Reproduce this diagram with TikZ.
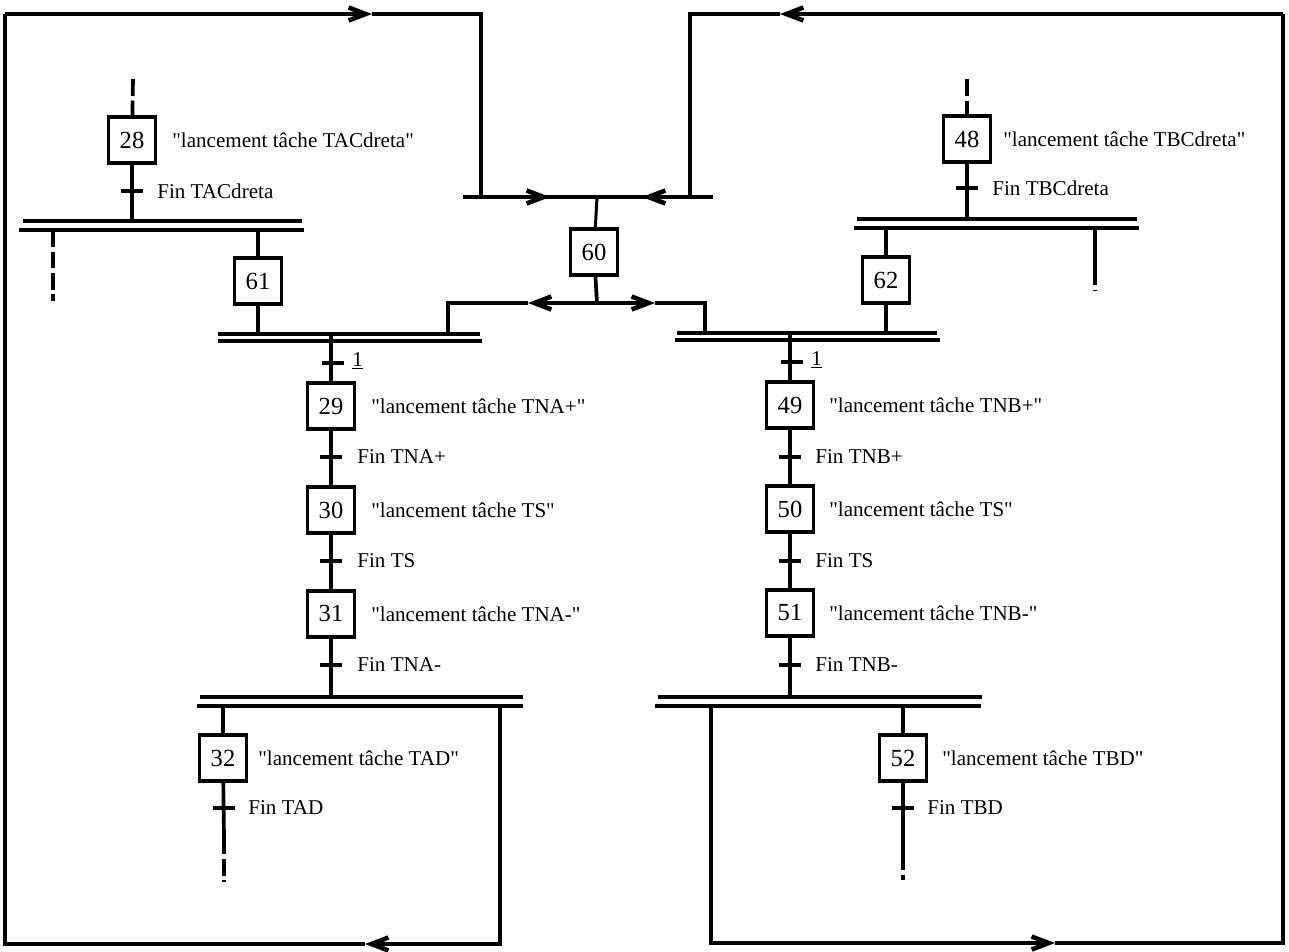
\documentclass[tikz,border=0pt]{standalone}
\usepackage{fontspec}
\setmainfont[Ligatures=TeXOff]{Liberation Serif}
\usetikzlibrary{arrows.meta, positioning}

\tikzstyle{stepBox} = [rectangle, draw=black, line width=2pt, minimum width=0.94cm, minimum height=0.92cm, inner sep=0pt, fill=white, font=\fontsize{14}{16}\selectfont]
\tikzstyle{trans} = [rectangle, fill=black, minimum width=0.44cm, minimum height=0.08cm, inner sep=0pt]
\tikzstyle{action} = [anchor=west, inner sep=0pt, font=\fontsize{12}{14}\selectfont]
\tikzstyle{cond} = [anchor=west, inner sep=0pt, font=\fontsize{12}{14}\selectfont]
\tikzstyle{link} = [line width=2.1pt]
\tikzstyle{bar} = [line width=2pt]
\tikzstyle{open} = [line width=2.1pt, dash pattern=on 0.34cm off 0.09cm]
\tikzstyle{arrow} = [line width=2.6pt, line join=miter, >={Straight Barb[length=3.4mm,width=2.6mm]}]

\begin{document}
\begin{tikzpicture}[x=0.02cm, y=-0.02cm, node distance=2.08cm]
        \useasboundingbox (0,0) rectangle (1289,951);

        % left branch
        \node (s28) [stepBox] at (132,140) {28};
        \node (a28) [action] at (172,140) {"lancement tâche TACdreta"};
        \node (t28) [trans] at (132,191) {};
        \node (f28) [cond] at (157,191) {Fin TACdreta};
        \coordinate (in28) at (133,79);
        \coordinate (barA) at (0,221);
        \coordinate (barAb) at (0,230);
        \coordinate (outA) at (53,301);

        \node (s61) [stepBox] at (258,281) {61};

        \coordinate (barB) at (0,334);
        \node (t1a) [trans] at (333,363) {};
        \node (c1a) [cond] at (352,361) {\underline{1}};

        \node (s29) [stepBox] at (331,406) {29};
        \node (s30) [stepBox, below of=s29] {30};
        \node (s31) [stepBox, below of=s30] {31};
        \node (a29) [action] at (371,406) {"lancement tâche TNA+"};
        \node (a30) [action] at (371,510) {"lancement tâche TS"};
        \node (a31) [action] at (371,614) {"lancement tâche TNA-"};
        \node (t29) [trans] at (331,457) {};
        \node (t30) [trans] at (331,561) {};
        \node (t31) [trans] at (331,665) {};
        \node (f29) [cond] at (357,457) {Fin TNA+};
        \node (f30) [cond] at (357,561) {Fin TS};
        \node (f31) [cond] at (357,665) {Fin TNA-};

        \coordinate (barC) at (0,697);
        \coordinate (barCb) at (0,706);
        \node (s32) [stepBox] at (223,758) {32};
        \node (a32) [action] at (258,758) {"lancement tâche TAD"};
        \node (t32) [trans] at (224,808) {};
        \node (f32) [cond] at (248,808) {Fin TAD};
        \coordinate (end32) at (224,837);
        \coordinate (out32) at (224,882);

        % centre
        \node (s60) [stepBox] at (594,252) {60};
        \coordinate (merge) at (597,197);
        \coordinate (split) at (597,303);

        % right branch
        \node (s48) [stepBox] at (967,139) {48};
        \node (a48) [action] at (1003,139) {"lancement tâche TBCdreta"};
        \node (t48) [trans] at (967,188) {};
        \node (f48) [cond] at (992,188) {Fin TBCdreta};
        \coordinate (in48) at (967,79);
        \coordinate (barD) at (0,219);
        \coordinate (barDb) at (0,228);
        \coordinate (endD) at (1095,268);
        \coordinate (outD) at (1095,291);

        \node (s62) [stepBox] at (886,280) {62};

        \coordinate (barE) at (0,333);
        \node (t1b) [trans] at (792,362) {};
        \node (c1b) [cond] at (811,360) {\underline{1}};

        \node (s49) [stepBox] at (790,405) {49};
        \node (s50) [stepBox, below of=s49] {50};
        \node (s51) [stepBox, below of=s50] {51};
        \node (a49) [action] at (829,405) {"lancement tâche TNB+"};
        \node (a50) [action] at (829,509) {"lancement tâche TS"};
        \node (a51) [action] at (829,613) {"lancement tâche TNB-"};
        \node (t49) [trans] at (790,457) {};
        \node (t50) [trans] at (790,561) {};
        \node (t51) [trans] at (790,665) {};
        \node (f49) [cond] at (815,457) {Fin TNB+};
        \node (f50) [cond] at (815,561) {Fin TS};
        \node (f51) [cond] at (815,665) {Fin TNB-};

        \coordinate (barF) at (0,697);
        \coordinate (barFb) at (0,706);
        \node (s52) [stepBox] at (903,758) {52};
        \node (a52) [action] at (942,758) {"lancement tâche TBD"};
        \node (t52) [trans] at (903,808) {};
        \node (f52) [cond] at (927,808) {Fin TBD};
        \coordinate (end52) at (903,853);
        \coordinate (out52) at (903,880);

        % double bars
        \draw[bar] (23,221) -- (302,221) (19,230) -- (304,230);
        \draw[bar] (218,334) -- (480,334) (218,341) -- (482,341);
        \draw[bar] (200,697) -- (523,697) (197,706) -- (523,706);
        \draw[bar] (857,219) -- (1137,219) (854,228) -- (1139,228);
        \draw[bar] (677,333) -- (937,333) (675,340) -- (940,340);
        \draw[bar] (658,697) -- (982,697) (655,706) -- (981,706);
        \draw[arrow] (463,197) -- (713,197);

        % links
        \draw[open] (in28) -- (s28);
        \draw[link] (s28) -- (s28 |- barA);
        \draw[open] (outA |- barAb) -- (outA);
        \draw[link] (s61 |- barAb) -- (s61) -- (s61 |- barB);
        \draw[link] (s31 |- barB) -- (s29) -- (s30) -- (s31) -- (s31 |- barC);
        \draw[link] (s32 |- barCb) -- (s32) -- (end32);
        \draw[open] (end32) -- (out32);

        \draw[open] (in48) -- (s48);
        \draw[link] (s48) -- (s48 |- barD);
        \draw[link] (endD |- barDb) -- (endD);
        \draw[open] (endD) -- (outD);
        \draw[link] (s62 |- barDb) -- (s62) -- (s62 |- barE);
        \draw[link] (s51 |- barE) -- (s49) -- (s50) -- (s51) -- (s51 |- barF);
        \draw[link] (s52 |- barFb) -- (s52) -- (end52);
        \draw[open] (end52) -- (out52);

        \draw[line width=1.7pt] (merge) -- (s60);
        \draw[link] (s60) -- (split);
        \draw[arrow, ->] (split) -- (528,303);
        \draw[arrow] (528,303) -| (448,334);
        \draw[arrow, ->] (split) -- (655,303);
        \draw[arrow] (655,303) -| (705,333);

        % loops back to 60
        \draw[arrow, ->] (500,706) |- (365,944);
        \draw[arrow] (365,944) -| (5,14);
        \draw[arrow, ->] (5,14) -- (372,14);
        \draw[arrow] (372,14) -| (481,197);
        \draw[arrow, ->] (481,197) -- (550,197);

        \draw[arrow, ->] (711,706) |- (1055,943);
        \draw[arrow] (1055,943) -| (1283,14);
        \draw[arrow, ->] (1283,14) -- (780,14);
        \draw[arrow] (780,14) -| (690,197);
        \draw[arrow, ->] (690,197) -- (642,197);

    \end{tikzpicture}
\end{document}
